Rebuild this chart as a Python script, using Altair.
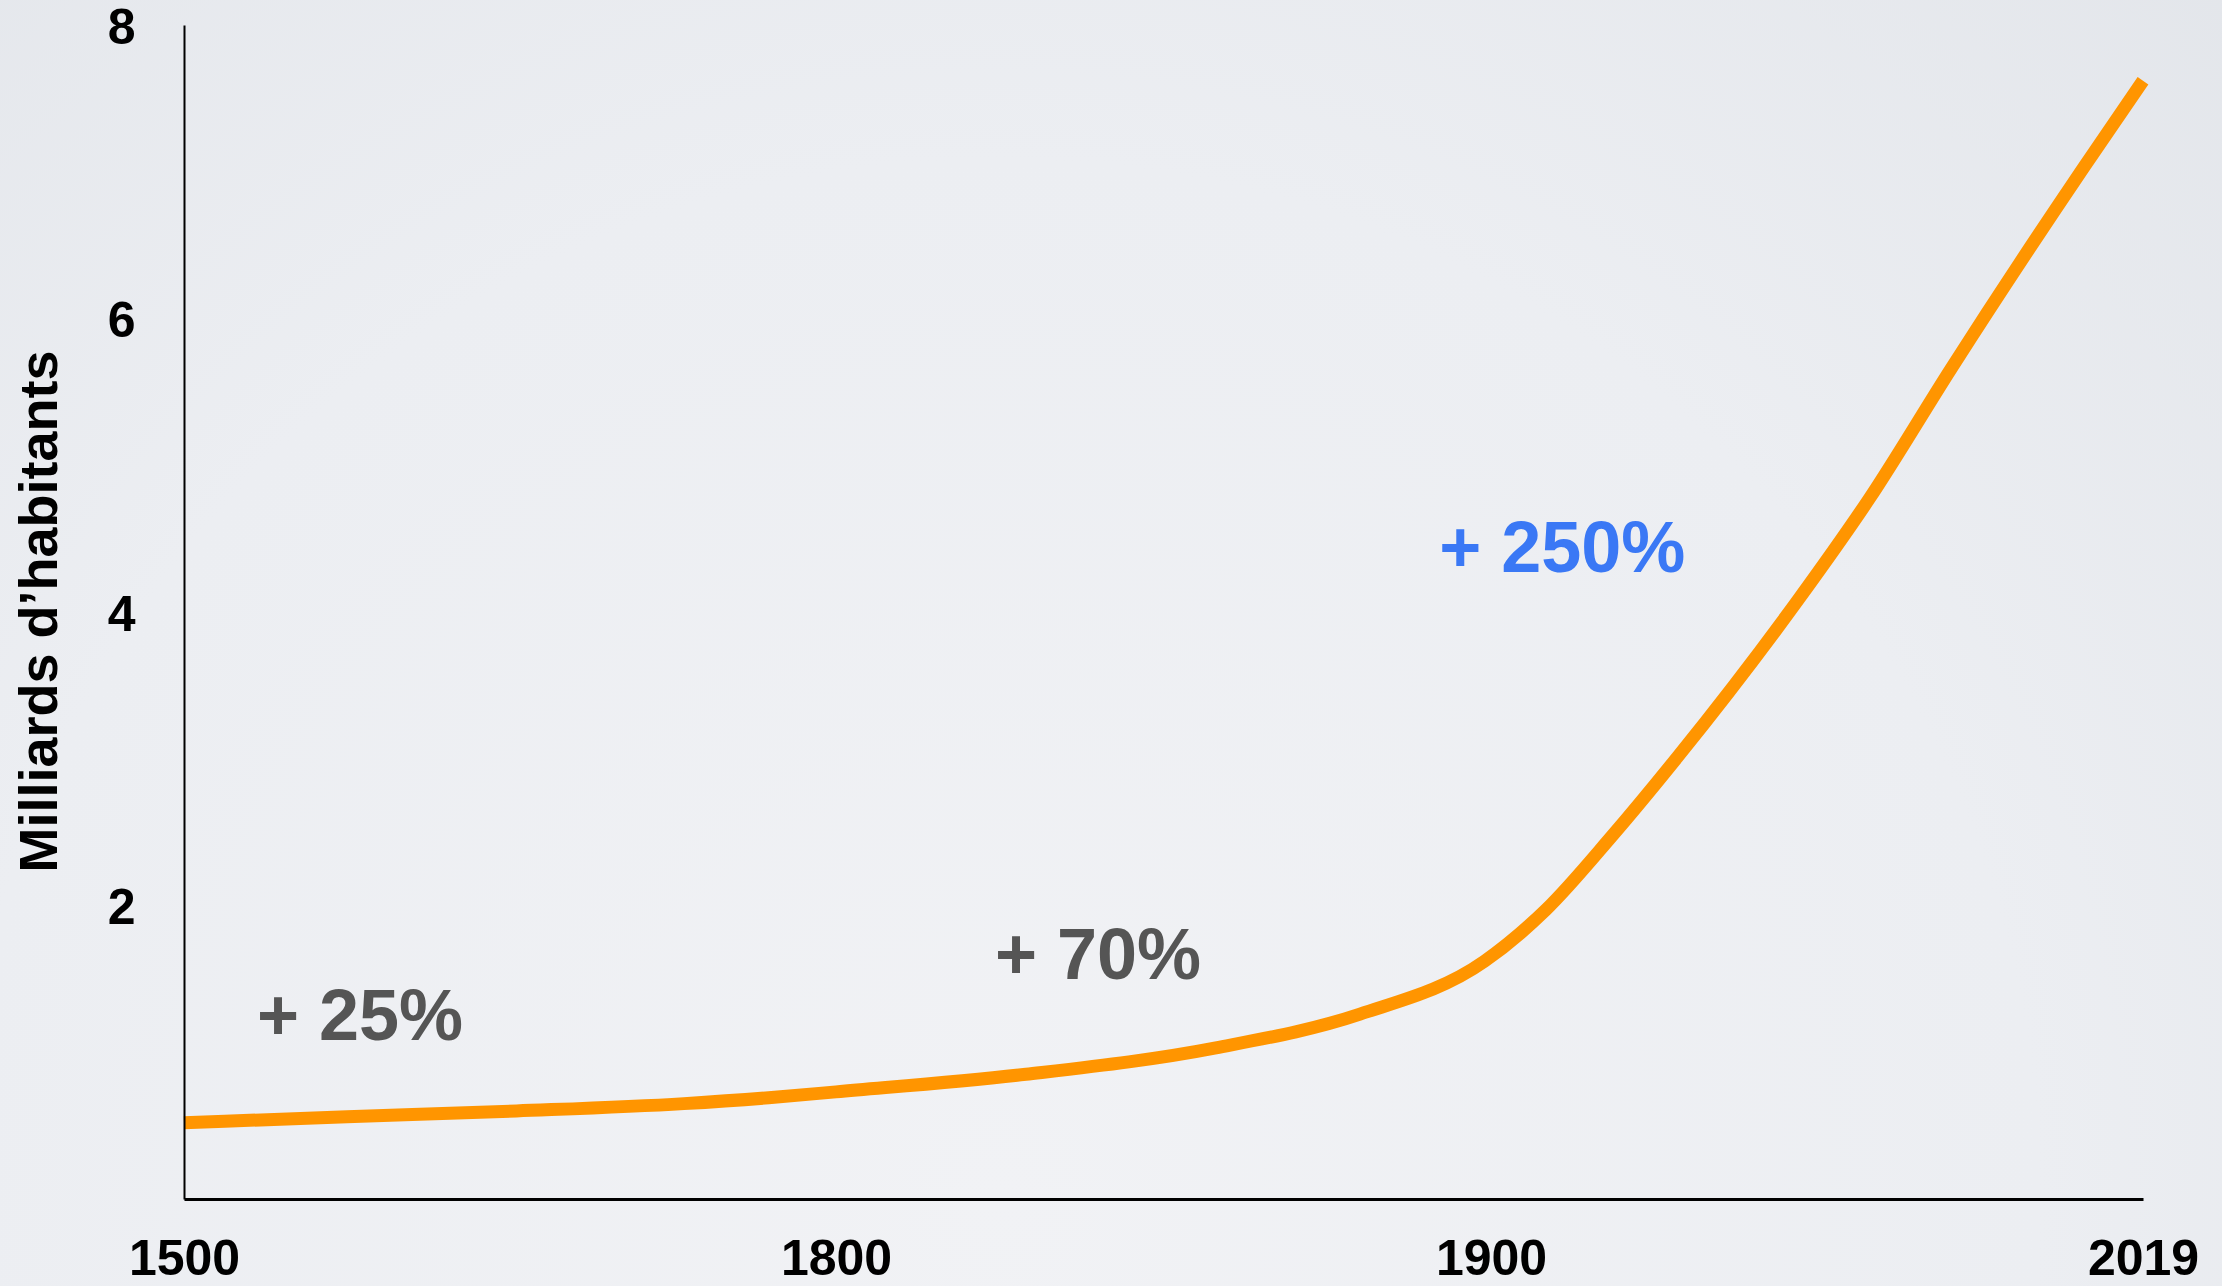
import altair as alt
import pandas as pd

# World population (billions of inhabitants)
years = [1500, 1575, 1653, 1730, 1769, 1800, 1829, 1858, 1880, 1899, 1910,
         1922, 1934, 1956, 1969, 1984, 2008, 2019]
population = [0.52, 0.56, 0.60, 0.65, 0.69, 0.73, 0.85, 1.03, 1.26, 1.62, 1.97,
              2.47, 3.01, 4.08, 4.77, 5.66, 7.02, 7.62]

# Growth annotations for each period
note_labels = ["+ 25%", "+ 70%", "+ 250%"]
note_years = [1581, 1840, 1913]
note_values = [1.23, 1.65, 4.42]
note_colors = ["#555555", "#555555", "#3a78f5"]

year_ticks = [1500, 1800, 1900, 2019]
value_ticks = [2, 4, 6, 8]

W, H = 1959, 1174
PAD = {"left": 184, "top": 25, "right": 79, "bottom": 87}
FONT = "Liberation Sans"

pop = pd.DataFrame({"year": years, "pop": population})
notes = pd.DataFrame({"label": note_labels, "year": note_years,
                      "pop": note_values, "color": note_colors})

# Each period gets an equal share of the horizontal axis
x_scale = alt.Scale(domain=year_ticks, range=[0, 652, 1307, W],
                    nice=False, zero=False)
y_scale = alt.Scale(domain=[0, 8], nice=False, zero=True)

x_axis = alt.Axis(values=year_ticks, format="d", title=None, ticks=False,
                  grid=False, domainColor="black", domainWidth=3, zindex=1,
                  labelFont=FONT, labelFontSize=50, labelFontWeight="bold",
                  labelColor="black", labelPadding=35, labelFlush=False)
y_axis = alt.Axis(values=value_ticks, format="d", title="Milliards d’habitants",
                  ticks=False, grid=False, domainColor="black", domainWidth=2,
                  zindex=1,
                  labelFont=FONT, labelFontSize=50, labelFontWeight="bold",
                  labelColor="black", labelPadding=49, labelOffset=3,
                  titleFont=FONT, titleFontSize=54, titleFontWeight="bold",
                  titleColor="black", titleAngle=270, titleX=-144, titleY=586,
                  titleAlign="center", titleBaseline="middle")

# Soft slide-style backdrop covering the whole canvas
backdrop = alt.Chart(pop).mark_rect(
    fill=alt.Gradient(
        gradient="radial",
        stops=[alt.GradientStop(color="#f1f2f5", offset=0),
               alt.GradientStop(color="#eceef2", offset=0.55),
               alt.GradientStop(color="#e1e4e9", offset=1)],
        x1=0.45, y1=0.75, r1=0, x2=0.45, y2=0.75, r2=0.85,
    ),
    strokeWidth=0,
).encode(
    x=alt.value(-PAD["left"]), x2=alt.value(W + PAD["right"]),
    y=alt.value(-PAD["top"]), y2=alt.value(H + PAD["bottom"]),
)

line = alt.Chart(pop).mark_line(
    color="#ff9500", strokeWidth=13, interpolate="monotone", strokeCap="butt"
).encode(
    x=alt.X("year:Q", scale=x_scale, axis=x_axis),
    y=alt.Y("pop:Q", scale=y_scale, axis=y_axis),
)

text = alt.Chart(notes).mark_text(
    font=FONT, fontSize=72, fontWeight="bold", align="center", baseline="middle"
).encode(
    x=alt.X("year:Q", scale=x_scale),
    y=alt.Y("pop:Q", scale=y_scale),
    text="label:N",
    color=alt.Color("color:N", scale=None),
)

chart = alt.layer(backdrop, line, text).properties(
    width=W, height=H,
    background="#eceff2",
    padding=PAD,
    autosize=alt.AutoSizeParams(type="none"),
).configure_view(strokeWidth=0)

chart.save("out.html", embed_options={"renderer": "svg", "actions": False})
